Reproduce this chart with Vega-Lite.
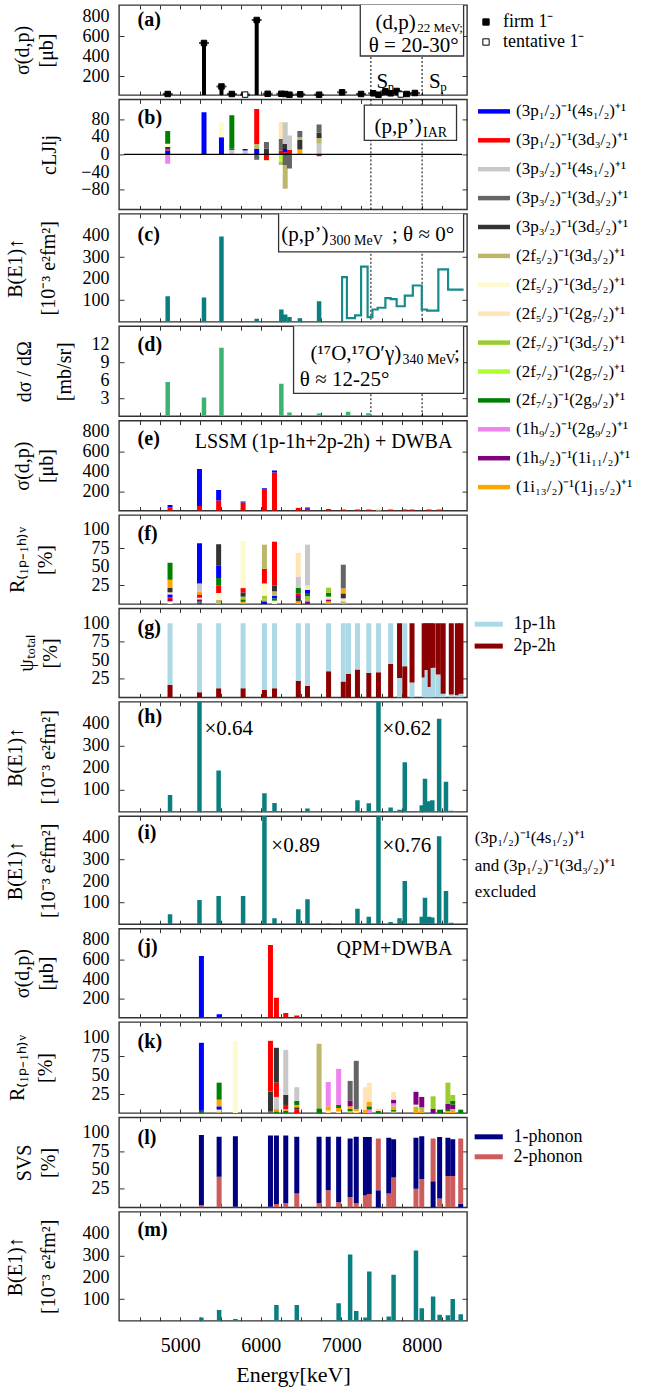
{
"$schema":"https://vega.github.io/schema/vega-lite/v6.json",
"padding":{"left":4,"top":3,"right":0,"bottom":0},
"autosize":{"type":"pad"},
"bounds":"flush",
"spacing":4.4,
"config":{
 "font":"Liberation Serif",
 "view":{"stroke":"#333333","strokeWidth":1.4},
 "axis":{"domain":false,"ticks":false,"grid":true,"gridColor":"#333333","gridOpacity":1,"gridWidth":1,"labelFlush":false,"labelFontSize":20,"labelColor":"black","titleFontSize":20,"titleFontWeight":"normal","titleColor":"black"},
 "axisY":{"labelPadding":10,"labelFontSize":18,"gridDash":[5,338],"titleAngle":-90,"titleBaseline":"top","titleAlign":"center","titleLineHeight":26},
 "legend":{"labelFontSize":17,"labelColor":"black","labelLimit":300},
 "text":{"color":"black"}
},
"datasets":{
 "thr":[{"E":7368},{"E":8004}],
 "a":[{"E":4843,"v":20,"t":"firm 1⁻"},{"E":5294,"v":530,"t":"firm 1⁻"},{"E":5511,"v":95,"t":"firm 1⁻"},{"E":5640,"v":20,"t":"firm 1⁻"},{"E":5805,"v":14,"t":"tentative 1⁻"},{"E":5949,"v":760,"t":"firm 1⁻"},{"E":6085,"v":22,"t":"firm 1⁻"},{"E":6255,"v":22,"t":"firm 1⁻"},{"E":6303,"v":20,"t":"firm 1⁻"},{"E":6356,"v":13,"t":"firm 1⁻"},{"E":6490,"v":17,"t":"firm 1⁻"},{"E":6724,"v":13,"t":"firm 1⁻"},{"E":7010,"v":37,"t":"firm 1⁻"},{"E":7246,"v":20,"t":"firm 1⁻"},{"E":7397,"v":27,"t":"firm 1⁻"},{"E":7462,"v":13,"t":"firm 1⁻"},{"E":7548,"v":47,"t":"firm 1⁻"},{"E":7613,"v":27,"t":"firm 1⁻"},{"E":7688,"v":50,"t":"firm 1⁻"},{"E":7739,"v":15,"t":"tentative 1⁻"},{"E":7814,"v":20,"t":"firm 1⁻"},{"E":7915,"v":30,"t":"firm 1⁻"}],
 "b":[
  {"E":4843,"s":1,"lo":0,"hi":9},{"E":4843,"s":2,"lo":9,"hi":11},{"E":4843,"s":5,"lo":11,"hi":17},{"E":4843,"s":7,"lo":17,"hi":24},{"E":4843,"s":11,"lo":24,"hi":53},{"E":4843,"s":12,"lo":-21,"hi":0},
  {"E":5294,"s":1,"lo":0,"hi":96},
  {"E":5511,"s":1,"lo":0,"hi":39},{"E":5511,"s":7,"lo":39,"hi":73},
  {"E":5640,"s":3,"lo":0,"hi":10.6},{"E":5640,"s":1,"lo":10.6,"hi":13},{"E":5640,"s":11,"lo":13,"hi":89},
  {"E":5805,"s":3,"lo":0,"hi":9},{"E":5805,"s":1,"lo":9,"hi":12},
  {"E":5949,"s":1,"lo":0,"hi":12},{"E":5949,"s":6,"lo":12,"hi":23.5},{"E":5949,"s":2,"lo":23.5,"hi":103},{"E":5949,"s":4,"lo":-12,"hi":0},
  {"E":6070,"s":5,"lo":0,"hi":13},{"E":6070,"s":4,"lo":13,"hi":28},{"E":6070,"s":2,"lo":-13,"hi":0},{"E":6070,"s":6,"lo":-14,"hi":-13},
  {"E":6255,"s":2,"lo":0,"hi":9},{"E":6255,"s":4,"lo":9,"hi":35},{"E":6255,"s":8,"lo":35,"hi":73},{"E":6255,"s":10,"lo":-17,"hi":0},{"E":6255,"s":6,"lo":-24,"hi":-17},
  {"E":6303,"s":2,"lo":0,"hi":5},{"E":6303,"s":1,"lo":5,"hi":12.5},{"E":6303,"s":5,"lo":12.5,"hi":23.5},{"E":6303,"s":3,"lo":23.5,"hi":73},{"E":6303,"s":4,"lo":-25,"hi":0},{"E":6303,"s":6,"lo":-78,"hi":-25},
  {"E":6356,"s":2,"lo":0,"hi":10.6},{"E":6356,"s":3,"lo":10.6,"hi":43},{"E":6356,"s":4,"lo":-32,"hi":0},
  {"E":6485,"s":14,"lo":0,"hi":11},{"E":6485,"s":5,"lo":11,"hi":33},{"E":6485,"s":6,"lo":33,"hi":39},{"E":6485,"s":4,"lo":39,"hi":53},
  {"E":6724,"s":3,"lo":0,"hi":24},{"E":6724,"s":6,"lo":24,"hi":37},{"E":6724,"s":5,"lo":37,"hi":50},{"E":6724,"s":4,"lo":50,"hi":68},{"E":6724,"s":2,"lo":-4,"hi":0}
 ],
 "c":[{"E":4843,"v":118},{"E":5294,"v":112},{"E":5511,"v":395},{"E":5949,"v":14},{"E":6255,"v":57},{"E":6303,"v":34},{"E":6356,"v":22},{"E":6485,"v":16},{"E":6724,"v":95}],
 "cs":[{"E":7010,"v":0},{"E":7010,"v":207},{"E":7070,"v":17},{"E":7171,"v":30},{"E":7246,"v":255},{"E":7327,"v":22},{"E":7387,"v":57},{"E":7452,"v":65},{"E":7548,"v":110},{"E":7613,"v":105},{"E":7688,"v":72},{"E":7789,"v":121},{"E":7889,"v":168},{"E":8000,"v":57},{"E":8065,"v":52},{"E":8206,"v":243},{"E":8327,"v":149},{"E":8520,"v":149}],
 "d":[{"E":4843,"v":5.7},{"E":5294,"v":3.1},{"E":5511,"v":11.4},{"E":6255,"v":5.4},{"E":6356,"v":0.6},{"E":6724,"v":0.45},{"E":7085,"v":0.75},{"E":7337,"v":0.5}],
 "e":[
  {"E":4872,"s":2,"lo":0,"hi":40},{"E":4872,"s":1,"lo":40,"hi":67},
  {"E":5238,"s":2,"lo":0,"hi":57},{"E":5238,"s":1,"lo":57,"hi":427},
  {"E":5476,"s":2,"lo":0,"hi":110},{"E":5476,"s":1,"lo":110,"hi":217},
  {"E":5780,"s":2,"lo":0,"hi":92},{"E":5780,"s":1,"lo":92,"hi":100},
  {"E":6045,"s":2,"lo":0,"hi":225},{"E":6045,"s":1,"lo":225,"hi":233},
  {"E":6170,"s":2,"lo":0,"hi":390},{"E":6170,"s":1,"lo":390,"hi":410},
  {"E":6466,"s":2,"lo":0,"hi":35},{"E":6466,"s":8,"lo":35,"hi":43},
  {"E":6580,"s":2,"lo":0,"hi":28},{"E":6580,"s":1,"lo":28,"hi":40},
  {"E":6842,"s":2,"lo":0,"hi":25},{"E":7025,"s":2,"lo":0,"hi":22},{"E":7201,"s":2,"lo":0,"hi":22},{"E":7342,"s":2,"lo":0,"hi":22},{"E":7462,"s":8,"lo":0,"hi":28},{"E":7613,"s":2,"lo":0,"hi":22},{"E":7789,"s":2,"lo":0,"hi":22},{"E":7879,"s":2,"lo":0,"hi":22},{"E":8090,"s":2,"lo":0,"hi":22},{"E":8216,"s":2,"lo":0,"hi":22}
 ],
 "f":[
  {"E":4872,"s":7,"lo":0,"hi":3.6},{"E":4872,"s":13,"lo":3.6,"hi":6.7},{"E":4872,"s":2,"lo":6.7,"hi":9},{"E":4872,"s":1,"lo":9,"hi":13},{"E":4872,"s":8,"lo":13,"hi":15.7},{"E":4872,"s":5,"lo":15.7,"hi":22},{"E":4872,"s":14,"lo":22,"hi":32.7},{"E":4872,"s":11,"lo":32.7,"hi":55.6},
  {"E":5238,"s":11,"lo":0,"hi":1.8},{"E":5238,"s":4,"lo":1.8,"hi":4},{"E":5238,"s":13,"lo":4,"hi":6.3},{"E":5238,"s":8,"lo":6.3,"hi":8.5},{"E":5238,"s":2,"lo":8.5,"hi":12.9},{"E":5238,"s":14,"lo":12.9,"hi":16.5},{"E":5238,"s":3,"lo":16.5,"hi":27.7},{"E":5238,"s":1,"lo":27.7,"hi":81.9},
  {"E":5476,"s":6,"lo":0,"hi":5.4},{"E":5476,"s":7,"lo":5.4,"hi":14.8},{"E":5476,"s":2,"lo":14.8,"hi":24.6},{"E":5476,"s":11,"lo":24.6,"hi":35},{"E":5476,"s":1,"lo":35,"hi":51.5},{"E":5476,"s":5,"lo":51.5,"hi":80.6},
  {"E":5780,"s":14,"lo":0,"hi":3},{"E":5780,"s":11,"lo":3,"hi":6.3},{"E":5780,"s":9,"lo":6.3,"hi":9.9},{"E":5780,"s":5,"lo":9.9,"hi":15.7},{"E":5780,"s":2,"lo":15.7,"hi":21.5},{"E":5780,"s":7,"lo":21.5,"hi":85},
  {"E":6045,"s":1,"lo":0,"hi":3.6},{"E":6045,"s":6,"lo":3.6,"hi":5.8},{"E":6045,"s":9,"lo":5.8,"hi":11.2},{"E":6045,"s":7,"lo":11.2,"hi":27.7},{"E":6045,"s":2,"lo":27.7,"hi":47.5},{"E":6045,"s":6,"lo":47.5,"hi":80},
  {"E":6170,"s":7,"lo":0,"hi":4.5},{"E":6170,"s":11,"lo":4.5,"hi":7.6},{"E":6170,"s":1,"lo":7.6,"hi":11.2},{"E":6170,"s":6,"lo":11.2,"hi":17},{"E":6170,"s":5,"lo":17,"hi":24.6},{"E":6170,"s":2,"lo":24.6,"hi":84},
  {"E":6466,"s":14,"lo":0,"hi":3.6},{"E":6466,"s":5,"lo":3.6,"hi":8},{"E":6466,"s":13,"lo":8,"hi":10.8},{"E":6466,"s":2,"lo":10.8,"hi":14.3},{"E":6466,"s":11,"lo":14.3,"hi":22},{"E":6466,"s":3,"lo":22,"hi":37},{"E":6466,"s":8,"lo":37,"hi":69},
  {"E":6580,"s":13,"lo":0,"hi":3.6},{"E":6580,"s":6,"lo":3.6,"hi":6.7},{"E":6580,"s":9,"lo":6.7,"hi":10.8},{"E":6580,"s":11,"lo":10.8,"hi":14.8},{"E":6580,"s":1,"lo":14.8,"hi":19},{"E":6580,"s":8,"lo":19,"hi":25},{"E":6580,"s":3,"lo":25,"hi":80},
  {"E":6842,"s":14,"lo":0,"hi":3.6},{"E":6842,"s":13,"lo":3.6,"hi":5.4},{"E":6842,"s":12,"lo":5.4,"hi":7.2},{"E":6842,"s":8,"lo":7.2,"hi":9.9},{"E":6842,"s":11,"lo":9.9,"hi":15.2},{"E":6842,"s":9,"lo":15.2,"hi":22},
  {"E":7025,"s":6,"lo":0,"hi":3.6},{"E":7025,"s":8,"lo":3.6,"hi":7.6},{"E":7025,"s":5,"lo":7.6,"hi":14.3},{"E":7025,"s":14,"lo":14.3,"hi":21},{"E":7025,"s":4,"lo":21,"hi":53}
 ],
 "g":[
  {"E":4872,"c":"2p-2h","lo":0,"hi":16.8},{"E":4872,"c":"1p-1h","lo":16.8,"hi":100},
  {"E":5238,"c":"2p-2h","lo":0,"hi":6.8},{"E":5238,"c":"1p-1h","lo":6.8,"hi":100},
  {"E":5476,"c":"2p-2h","lo":0,"hi":12.2},{"E":5476,"c":"1p-1h","lo":12.2,"hi":100},
  {"E":5780,"c":"2p-2h","lo":0,"hi":12.2},{"E":5780,"c":"1p-1h","lo":12.2,"hi":100},
  {"E":6045,"c":"2p-2h","lo":0,"hi":10.4},{"E":6045,"c":"1p-1h","lo":10.4,"hi":100},
  {"E":6170,"c":"2p-2h","lo":0,"hi":12.2},{"E":6170,"c":"1p-1h","lo":12.2,"hi":100},
  {"E":6466,"c":"2p-2h","lo":0,"hi":22.6},{"E":6466,"c":"1p-1h","lo":22.6,"hi":100},
  {"E":6580,"c":"2p-2h","lo":0,"hi":15.4},{"E":6580,"c":"1p-1h","lo":15.4,"hi":100},
  {"E":6842,"c":"2p-2h","lo":0,"hi":35.3},{"E":6842,"c":"1p-1h","lo":35.3,"hi":100},
  {"E":7025,"c":"2p-2h","lo":0,"hi":21.3},{"E":7025,"c":"1p-1h","lo":21.3,"hi":100},
  {"E":7090,"c":"2p-2h","lo":0,"hi":31.6},{"E":7090,"c":"1p-1h","lo":31.6,"hi":100},
  {"E":7201,"c":"2p-2h","lo":0,"hi":37.5},{"E":7201,"c":"1p-1h","lo":37.5,"hi":100},
  {"E":7342,"c":"2p-2h","lo":0,"hi":33},{"E":7342,"c":"1p-1h","lo":33,"hi":100},
  {"E":7462,"c":"2p-2h","lo":0,"hi":33.9},{"E":7462,"c":"1p-1h","lo":33.9,"hi":100},
  {"E":7613,"c":"2p-2h","lo":0,"hi":45.2},{"E":7613,"c":"1p-1h","lo":45.2,"hi":100},
  {"E":7724,"c":"1p-1h","lo":0,"hi":26},{"E":7724,"c":"2p-2h","lo":26,"hi":100},
  {"E":7789,"c":"2p-2h","lo":0,"hi":42},{"E":7789,"c":"1p-1h","lo":42,"hi":100},
  {"E":7879,"c":"1p-1h","lo":0,"hi":20},{"E":7879,"c":"2p-2h","lo":20,"hi":100},
  {"E":8030,"c":"1p-1h","lo":0,"hi":27},{"E":8030,"c":"2p-2h","lo":27,"hi":100},
  {"E":8065,"c":"1p-1h","lo":0,"hi":37},{"E":8065,"c":"2p-2h","lo":37,"hi":100},
  {"E":8105,"c":"1p-1h","lo":0,"hi":14},{"E":8105,"c":"2p-2h","lo":14,"hi":100},
  {"E":8141,"c":"1p-1h","lo":0,"hi":40},{"E":8141,"c":"2p-2h","lo":40,"hi":100},
  {"E":8206,"c":"1p-1h","lo":0,"hi":31},{"E":8206,"c":"2p-2h","lo":31,"hi":100},
  {"E":8266,"c":"1p-1h","lo":0,"hi":5},{"E":8266,"c":"2p-2h","lo":5,"hi":100},
  {"E":8367,"c":"1p-1h","lo":0,"hi":4},{"E":8367,"c":"2p-2h","lo":4,"hi":100},
  {"E":8442,"c":"1p-1h","lo":0,"hi":3},{"E":8442,"c":"2p-2h","lo":3,"hi":100},
  {"E":8487,"c":"1p-1h","lo":0,"hi":5},{"E":8487,"c":"2p-2h","lo":5,"hi":100}
 ],
 "h":[{"E":4872,"v":76},{"E":5238,"v":700},{"E":5476,"v":188},{"E":5780,"v":5},{"E":6045,"v":84},{"E":6170,"v":40},{"E":6466,"v":3},{"E":6580,"v":15},{"E":6842,"v":3},{"E":7025,"v":2},{"E":7201,"v":53},{"E":7342,"v":39},{"E":7462,"v":700},{"E":7613,"v":20},{"E":7724,"v":9},{"E":7789,"v":225},{"E":7879,"v":2},{"E":8000,"v":30},{"E":8040,"v":150},{"E":8090,"v":48},{"E":8131,"v":53},{"E":8216,"v":423},{"E":8301,"v":137},{"E":8367,"v":5},{"E":8467,"v":2}],
 "i":[{"E":4872,"v":46},{"E":5238,"v":112},{"E":5476,"v":130},{"E":5780,"v":130},{"E":6045,"v":700},{"E":6170,"v":28},{"E":6466,"v":69},{"E":6580,"v":115},{"E":6842,"v":3},{"E":7025,"v":2},{"E":7201,"v":72},{"E":7342,"v":35},{"E":7462,"v":700},{"E":7613,"v":10},{"E":7724,"v":28},{"E":7789,"v":200},{"E":8000,"v":35},{"E":8040,"v":123},{"E":8090,"v":35},{"E":8131,"v":31},{"E":8216,"v":407},{"E":8301,"v":154},{"E":8367,"v":7}],
 "j":[{"E":5262,"s":1,"v":633},{"E":5482,"s":1,"v":45},{"E":6120,"s":2,"v":743},{"E":6194,"s":2,"v":210},{"E":6310,"s":2,"v":57},{"E":6447,"s":2,"v":30}],
 "k":[
  {"E":5262,"s":11,"lo":0,"hi":3},{"E":5262,"s":1,"lo":3,"hi":92.6},
  {"E":5482,"s":6,"lo":0,"hi":2},{"E":5482,"s":7,"lo":2,"hi":4.4},{"E":5482,"s":1,"lo":4.4,"hi":8.8},{"E":5482,"s":14,"lo":8.8,"hi":17.6},{"E":5482,"s":11,"lo":17.6,"hi":40},
  {"E":5684,"s":7,"lo":0,"hi":95.2},
  {"E":6120,"s":4,"lo":0,"hi":2.6},{"E":6120,"s":5,"lo":2.6,"hi":28.2},{"E":6120,"s":2,"lo":28.2,"hi":95.2},
  {"E":6194,"s":11,"lo":0,"hi":2.2},{"E":6194,"s":14,"lo":2.2,"hi":5.3},{"E":6194,"s":3,"lo":5.3,"hi":21.2},{"E":6194,"s":2,"lo":21.2,"hi":40},{"E":6194,"s":5,"lo":40,"hi":86},
  {"E":6310,"s":11,"lo":0,"hi":3},{"E":6310,"s":14,"lo":3,"hi":5.3},{"E":6310,"s":2,"lo":5.3,"hi":10.6},{"E":6310,"s":5,"lo":10.6,"hi":23.8},{"E":6310,"s":3,"lo":23.8,"hi":83.3},
  {"E":6447,"s":2,"lo":0,"hi":4.4},{"E":6447,"s":5,"lo":4.4,"hi":7.5},{"E":6447,"s":14,"lo":7.5,"hi":10.6},{"E":6447,"s":11,"lo":10.6,"hi":16},{"E":6447,"s":3,"lo":16,"hi":34},
  {"E":6724,"s":11,"lo":0,"hi":6.2},{"E":6724,"s":6,"lo":6.2,"hi":91.3},
  {"E":6838,"s":8,"lo":0,"hi":3.5},{"E":6838,"s":14,"lo":3.5,"hi":8.8},{"E":6838,"s":12,"lo":8.8,"hi":40.8},
  {"E":6967,"s":8,"lo":0,"hi":2},{"E":6967,"s":14,"lo":2,"hi":6.6},{"E":6967,"s":11,"lo":6.6,"hi":10.6},{"E":6967,"s":12,"lo":10.6,"hi":58.2},
  {"E":7110,"s":6,"lo":0,"hi":2.6},{"E":7110,"s":11,"lo":2.6,"hi":5.3},{"E":7110,"s":14,"lo":5.3,"hi":8.8},{"E":7110,"s":13,"lo":8.8,"hi":16},{"E":7110,"s":4,"lo":16,"hi":42.3},
  {"E":7186,"s":8,"lo":0,"hi":2.6},{"E":7186,"s":14,"lo":2.6,"hi":5.3},{"E":7186,"s":4,"lo":5.3,"hi":68.8},
  {"E":7300,"s":14,"lo":0,"hi":4.4},{"E":7300,"s":8,"lo":4.4,"hi":34},
  {"E":7348,"s":12,"lo":0,"hi":4.4},{"E":7348,"s":11,"lo":4.4,"hi":8.8},{"E":7348,"s":14,"lo":8.8,"hi":15},{"E":7348,"s":8,"lo":15,"hi":40},
  {"E":7460,"s":11,"lo":0,"hi":2.6},{"E":7460,"s":8,"lo":2.6,"hi":6},
  {"E":7650,"s":6,"lo":0,"hi":2},{"E":7650,"s":11,"lo":2,"hi":4.4},{"E":7650,"s":14,"lo":4.4,"hi":8.8},{"E":7650,"s":12,"lo":8.8,"hi":12.7},{"E":7650,"s":13,"lo":12.7,"hi":17.6},{"E":7650,"s":8,"lo":17.6,"hi":28},
  {"E":7928,"s":14,"lo":0,"hi":5.3},{"E":7928,"s":9,"lo":5.3,"hi":8.4},{"E":7928,"s":8,"lo":8.4,"hi":11},{"E":7928,"s":13,"lo":11,"hi":28},
  {"E":8000,"s":14,"lo":0,"hi":3},{"E":8000,"s":6,"lo":3,"hi":5.3},{"E":8000,"s":9,"lo":5.3,"hi":7.5},{"E":8000,"s":13,"lo":7.5,"hi":21.2},
  {"E":8141,"s":13,"lo":0,"hi":5.3},{"E":8141,"s":9,"lo":5.3,"hi":22},
  {"E":8222,"s":11,"lo":0,"hi":4.4},
  {"E":8325,"s":14,"lo":0,"hi":2.6},{"E":8325,"s":11,"lo":2.6,"hi":5.3},{"E":8325,"s":13,"lo":5.3,"hi":11.9},{"E":8325,"s":9,"lo":11.9,"hi":40},
  {"E":8385,"s":14,"lo":0,"hi":2.6},{"E":8385,"s":6,"lo":2.6,"hi":5.3},{"E":8385,"s":13,"lo":5.3,"hi":11},{"E":8385,"s":11,"lo":11,"hi":16},{"E":8385,"s":9,"lo":16,"hi":23.8},
  {"E":8484,"s":11,"lo":0,"hi":4.4}
 ],
 "l":[
  {"E":5262,"c":"2-phonon","lo":0,"hi":3.1},{"E":5262,"c":"1-phonon","lo":3.1,"hi":96.4},
  {"E":5482,"c":"2-phonon","lo":0,"hi":41},{"E":5482,"c":"1-phonon","lo":41,"hi":94.2},
  {"E":5684,"c":"2-phonon","lo":0,"hi":1},{"E":5684,"c":"1-phonon","lo":1,"hi":95},
  {"E":6120,"c":"2-phonon","lo":0,"hi":1},{"E":6120,"c":"1-phonon","lo":1,"hi":95.8},
  {"E":6194,"c":"2-phonon","lo":0,"hi":4.6},{"E":6194,"c":"1-phonon","lo":4.6,"hi":95.8},
  {"E":6310,"c":"2-phonon","lo":0,"hi":5.5},{"E":6310,"c":"1-phonon","lo":5.5,"hi":95.8},
  {"E":6447,"c":"2-phonon","lo":0,"hi":18.7},{"E":6447,"c":"1-phonon","lo":18.7,"hi":94.2},
  {"E":6724,"c":"2-phonon","lo":0,"hi":5.5},{"E":6724,"c":"1-phonon","lo":5.5,"hi":94.2},
  {"E":6838,"c":"2-phonon","lo":0,"hi":23},{"E":6838,"c":"1-phonon","lo":23,"hi":94.2},
  {"E":6967,"c":"2-phonon","lo":0,"hi":6.8},{"E":6967,"c":"1-phonon","lo":6.8,"hi":94.2},
  {"E":7110,"c":"2-phonon","lo":0,"hi":14},{"E":7110,"c":"1-phonon","lo":14,"hi":92},
  {"E":7186,"c":"2-phonon","lo":0,"hi":5.5},{"E":7186,"c":"1-phonon","lo":5.5,"hi":94.2},
  {"E":7300,"c":"2-phonon","lo":0,"hi":16},{"E":7300,"c":"1-phonon","lo":16,"hi":94},
  {"E":7348,"c":"2-phonon","lo":0,"hi":18},{"E":7348,"c":"1-phonon","lo":18,"hi":94},
  {"E":7460,"c":"1-phonon","lo":0,"hi":23},{"E":7460,"c":"2-phonon","lo":23,"hi":92},
  {"E":7590,"c":"2-phonon","lo":0,"hi":18.7},{"E":7590,"c":"1-phonon","lo":18.7,"hi":93},
  {"E":7650,"c":"2-phonon","lo":0,"hi":40},{"E":7650,"c":"1-phonon","lo":40,"hi":91},
  {"E":7928,"c":"2-phonon","lo":0,"hi":25},{"E":7928,"c":"1-phonon","lo":25,"hi":93},
  {"E":8000,"c":"2-phonon","lo":0,"hi":38},{"E":8000,"c":"1-phonon","lo":38,"hi":95},
  {"E":8141,"c":"1-phonon","lo":0,"hi":35},{"E":8141,"c":"2-phonon","lo":35,"hi":92},
  {"E":8222,"c":"2-phonon","lo":0,"hi":12},{"E":8222,"c":"1-phonon","lo":12,"hi":94},
  {"E":8325,"c":"2-phonon","lo":0,"hi":42},{"E":8325,"c":"1-phonon","lo":42,"hi":93},
  {"E":8385,"c":"2-phonon","lo":0,"hi":42},{"E":8385,"c":"1-phonon","lo":42,"hi":91},
  {"E":8484,"c":"1-phonon","lo":0,"hi":5},{"E":8484,"c":"2-phonon","lo":5,"hi":92}
 ],
 "m":[{"E":5262,"v":15},{"E":5482,"v":49},{"E":5684,"v":8},{"E":6120,"v":3},{"E":6194,"v":72},{"E":6310,"v":3},{"E":6447,"v":72},{"E":6724,"v":2},{"E":6838,"v":3},{"E":6967,"v":80},{"E":7110,"v":304},{"E":7186,"v":45},{"E":7300,"v":15},{"E":7348,"v":226},{"E":7460,"v":3},{"E":7590,"v":20},{"E":7650,"v":211},{"E":7928,"v":323},{"E":8000,"v":58},{"E":8141,"v":111},{"E":8222,"v":28},{"E":8325,"v":26},{"E":8385,"v":100},{"E":8484,"v":30}]
},
"vconcat":[
 {"width":348,"height":90,
  "resolve":{"axis":{"y":"independent"}},
  "encoding":{"x":{"field":"E","type":"quantitative","scale":{"domain":[4300,8500],"nice":false,"zero":false},"axis":{"title":null,"labels":false,"gridDash":[4,82],"values":[4500,4750,5000,5250,5500,5750,6000,6250,6500,6750,7000,7250,7500,7750,8000,8250]}}},
  "layer":[
   {"data":{"name":"thr"},"mark":{"type":"rule","strokeDash":[2,2],"color":"black","strokeWidth":1},"encoding":{}},
   {"data":{"name":"a"},"mark":{"type":"bar","size":4,"color":"black","clip":true,"orient":"vertical"},"encoding":{"y":{"field":"v","type":"quantitative","scale":{"domain":[10,910],"nice":false,"zero":false},"axis":{"orient":"left","title":["σ(d,p)","[μb]"],"values":[200,600],"titleX":-107,"titleLineHeight":24}},"y2":{"datum":10}}},
   {"data":{"name":"a"},"mark":{"type":"tick","orient":"horizontal","size":10,"thickness":2,"color":"black"},"encoding":{"y":{"field":"v","type":"quantitative","axis":null}}},
   {"data":{"name":"a"},"mark":{"type":"point","shape":"square","filled":true,"size":30,"stroke":"black","strokeWidth":1,"opacity":1},"encoding":{"y":{"field":"v","type":"quantitative","axis":null},"fill":{"field":"t","type":"nominal","scale":{"domain":["firm 1⁻","tentative 1⁻"],"range":["black","white"]},"legend":{"orient":"none","legendX":358,"legendY":8,"title":null,"symbolType":"square","symbolSize":40,"symbolStrokeColor":"black","symbolStrokeWidth":1,"labelFontSize":18,"rowPadding":2,"labelOffset":8}}}},
   {"data":{"values":[{"E":7236,"E2":8520,"lo":400,"hi":930}]},"mark":{"type":"rect","fill":"white","stroke":"#333333","strokeWidth":1.3,"clip":true},"encoding":{"x":{"field":"E","type":"quantitative"},"x2":{"field":"E2"},"y":{"field":"lo","type":"quantitative","axis":null},"y2":{"field":"hi"}}},
   {"data":{"values":[{"E":7925,"v":732,"t":"(d,p)"}]},"mark":{"type":"text","align":"right","baseline":"middle","fontSize":21},"encoding":{"y":{"field":"v","type":"quantitative","axis":null},"text":{"field":"t"}}},
   {"data":{"values":[{"E":7342,"v":500,"t":"θ = 20-30°"},{"E":7437,"v":140,"t":"S"},{"E":8090,"v":140,"t":"S"}]},"mark":{"type":"text","align":"left","baseline":"middle","fontSize":21},"encoding":{"y":{"field":"v","type":"quantitative","axis":null},"text":{"field":"t"}}},
   {"data":{"values":[{"E":7945,"v":732,"t":"22 MeV;"},{"E":7578,"v":140,"t":"n"},{"E":8231,"v":140,"t":"p"}]},"mark":{"type":"text","align":"left","baseline":"middle","fontSize":13,"dy":5},"encoding":{"y":{"field":"v","type":"quantitative","axis":null},"text":{"field":"t"}}},
   {"data":{"values":[{"E":4469,"v":757,"t":"(a)"}]},"mark":{"type":"text","align":"left","baseline":"middle","fontSize":20,"fontWeight":"bold"},"encoding":{"y":{"field":"v","type":"quantitative","axis":{"orient":"left","title":null,"values":[400,800]}},"text":{"field":"t"}}}
  ]},
 {"width":348,"height":110,
  "resolve":{"axis":{"y":"independent"}},
  "encoding":{"x":{"field":"E","type":"quantitative","scale":{"domain":[4300,8500],"nice":false,"zero":false},"axis":{"title":null,"labels":false,"gridDash":[4,102],"values":[4500,4750,5000,5250,5500,5750,6000,6250,6500,6750,7000,7250,7500,7750,8000,8250]}}},
  "layer":[
   {"data":{"name":"thr"},"mark":{"type":"rule","strokeDash":[2,2],"color":"black","strokeWidth":1},"encoding":{}},
   {"data":{"name":"b"},"mark":{"type":"bar","size":5,"clip":true,"orient":"vertical"},"encoding":{"y":{"field":"lo","type":"quantitative","scale":{"domain":[-125,125],"nice":false,"zero":false},"axis":{"orient":"left","title":"cLJlj","values":[-80,0,80],"titleX":-80}},"y2":{"field":"hi"},"color":{"field":"s","type":"nominal","scale":{"domain":[1,2,3,4,5,6,7,8,9,10,11,12,13,14],"range":["#0000ff","#ff0000","#c8c8c8","#646464","#333333","#bdb76b","#fffacd","#ffe4b5","#9acd32","#adff2f","#008000","#ee82ee","#800080","#ffa500"]},"legend":{"orient":"none","legendX":359,"legendY":-4,"title":null,"symbolType":"M-1,-0.14L1,-0.14L1,0.14L-1,0.14Z","symbolSize":1024,"symbolStrokeWidth":0,"labelFontSize":17,"labelOffset":6,"rowPadding":4.9,"labelExpr":"['(3p₁/₂)⁻¹(4s₁/₂)⁺¹','(3p₁/₂)⁻¹(3d₃/₂)⁺¹','(3p₃/₂)⁻¹(4s₁/₂)⁺¹','(3p₃/₂)⁻¹(3d₃/₂)⁺¹','(3p₃/₂)⁻¹(3d₅/₂)⁺¹','(2f₅/₂)⁻¹(3d₃/₂)⁺¹','(2f₅/₂)⁻¹(3d₅/₂)⁺¹','(2f₅/₂)⁻¹(2g₇/₂)⁺¹','(2f₇/₂)⁻¹(3d₅/₂)⁺¹','(2f₇/₂)⁻¹(2g₇/₂)⁺¹','(2f₇/₂)⁻¹(2g₉/₂)⁺¹','(1h₉/₂)⁻¹(2g₉/₂)⁺¹','(1h₉/₂)⁻¹(1i₁₁/₂)⁺¹','(1i₁₃/₂)⁻¹(1j₁₅/₂)⁺¹'][datum.value - 1]"}}}},
   {"data":{"values":[{"E":4300,"E2":8500}]},"mark":{"type":"rule","color":"black","strokeWidth":1.2},"encoding":{"x":{"field":"E","type":"quantitative"},"x2":{"field":"E2"},"y":{"datum":0,"type":"quantitative","axis":null}}},
   {"data":{"values":[{"E":7286,"E2":8432,"lo":32,"hi":112}]},"mark":{"type":"rect","fill":"white","stroke":"#333333","strokeWidth":1.3},"encoding":{"x":{"field":"E","type":"quantitative"},"x2":{"field":"E2"},"y":{"field":"lo","type":"quantitative","axis":null},"y2":{"field":"hi"}}},
   {"data":{"values":[{"E":8000,"v":62,"t":"(p,p’)"}]},"mark":{"type":"text","align":"right","baseline":"middle","fontSize":21},"encoding":{"y":{"field":"v","type":"quantitative","axis":null},"text":{"field":"t"}}},
   {"data":{"values":[{"E":8015,"v":62,"t":"IAR"}]},"mark":{"type":"text","align":"left","baseline":"middle","fontSize":14,"dy":6},"encoding":{"y":{"field":"v","type":"quantitative","axis":null},"text":{"field":"t"}}},
   {"data":{"values":[{"E":4469,"v":82,"t":"(b)"}]},"mark":{"type":"text","align":"left","baseline":"middle","fontSize":20,"fontWeight":"bold"},"encoding":{"y":{"field":"v","type":"quantitative","axis":{"orient":"left","title":null,"values":[-40,40]}},"text":{"field":"t"}}}
  ]},
 {"width":348,"height":108,
  "resolve":{"axis":{"y":"independent"}},
  "encoding":{"x":{"field":"E","type":"quantitative","scale":{"domain":[4300,8500],"nice":false,"zero":false},"axis":{"title":null,"labels":false,"gridDash":[4,100],"values":[4500,4750,5000,5250,5500,5750,6000,6250,6500,6750,7000,7250,7500,7750,8000,8250]}}},
  "layer":[
   {"data":{"name":"thr"},"mark":{"type":"rule","strokeDash":[2,2],"color":"black","strokeWidth":1},"encoding":{}},
   {"data":{"name":"c"},"mark":{"type":"bar","size":4.5,"color":"#0b7f7f","clip":true,"orient":"vertical"},"encoding":{"y":{"field":"v","type":"quantitative","scale":{"domain":[0,500],"nice":false,"zero":false},"axis":{"orient":"left","title":["B(E1)↑","[10⁻³ e²fm²]"],"values":[100,300],"titleX":-114,"titleLineHeight":33}}}},
   {"data":{"name":"cs"},"mark":{"type":"line","interpolate":"step-after","stroke":"#178a8a","strokeWidth":2.2,"clip":true},"encoding":{"y":{"field":"v","type":"quantitative","axis":null}}},
   {"data":{"values":[{"E":6221,"E2":8520,"lo":324,"hi":520}]},"mark":{"type":"rect","fill":"white","stroke":"#333333","strokeWidth":1.3,"clip":true},"encoding":{"x":{"field":"E","type":"quantitative"},"x2":{"field":"E2"},"y":{"field":"lo","type":"quantitative","axis":null},"y2":{"field":"hi"}}},
   {"data":{"values":[{"E":6840,"v":400,"t":"(p,p’)"}]},"mark":{"type":"text","align":"right","baseline":"middle","fontSize":21},"encoding":{"y":{"field":"v","type":"quantitative","axis":null},"text":{"field":"t"}}},
   {"data":{"values":[{"E":6855,"v":400,"t":"300 MeV"}]},"mark":{"type":"text","align":"left","baseline":"middle","fontSize":14,"dy":6},"encoding":{"y":{"field":"v","type":"quantitative","axis":null},"text":{"field":"t"}}},
   {"data":{"values":[{"E":7630,"v":400,"t":"; θ ≈ 0°"}]},"mark":{"type":"text","align":"left","baseline":"middle","fontSize":21},"encoding":{"y":{"field":"v","type":"quantitative","axis":null},"text":{"field":"t"}}},
   {"data":{"values":[{"E":4469,"v":401,"t":"(c)"}]},"mark":{"type":"text","align":"left","baseline":"middle","fontSize":20,"fontWeight":"bold"},"encoding":{"y":{"field":"v","type":"quantitative","axis":{"orient":"left","title":null,"values":[200,400]}},"text":{"field":"t"}}}
  ]},
 {"width":348,"height":90,
  "resolve":{"axis":{"y":"independent"}},
  "encoding":{"x":{"field":"E","type":"quantitative","scale":{"domain":[4300,8500],"nice":false,"zero":false},"axis":{"title":null,"labels":false,"gridDash":[4,82],"values":[4500,4750,5000,5250,5500,5750,6000,6250,6500,6750,7000,7250,7500,7750,8000,8250]}}},
  "layer":[
   {"data":{"name":"thr"},"mark":{"type":"rule","strokeDash":[2,2],"color":"black","strokeWidth":1},"encoding":{}},
   {"data":{"name":"d"},"mark":{"type":"bar","size":4.5,"color":"#3cb371","clip":true,"orient":"vertical"},"encoding":{"y":{"field":"v","type":"quantitative","scale":{"domain":[0,15],"nice":false,"zero":false},"axis":{"orient":"left","title":["dσ / dΩ","[mb/sr]"],"values":[3,9],"titleX":-105,"titleLineHeight":40}}}},
   {"data":{"values":[{"E":6407,"E2":8520,"lo":3.8,"hi":16}]},"mark":{"type":"rect","fill":"white","stroke":"#333333","strokeWidth":1.3,"clip":true},"encoding":{"x":{"field":"E","type":"quantitative"},"x2":{"field":"E2"},"y":{"field":"lo","type":"quantitative","axis":null},"y2":{"field":"hi"}}},
   {"data":{"values":[{"E":7745,"v":10.3,"t":"(¹⁷O,¹⁷O′γ)"}]},"mark":{"type":"text","align":"right","baseline":"middle","fontSize":21},"encoding":{"y":{"field":"v","type":"quantitative","axis":null},"text":{"field":"t"}}},
   {"data":{"values":[{"E":7760,"v":10.3,"t":"340 MeV"}]},"mark":{"type":"text","align":"left","baseline":"middle","fontSize":14,"dy":6},"encoding":{"y":{"field":"v","type":"quantitative","axis":null},"text":{"field":"t"}}},
   {"data":{"values":[{"E":8400,"v":10.3,"t":";"},{"E":6485,"v":6.1,"t":"θ ≈ 12-25°"}]},"mark":{"type":"text","align":"left","baseline":"middle","fontSize":21},"encoding":{"y":{"field":"v","type":"quantitative","axis":null},"text":{"field":"t"}}},
   {"data":{"values":[{"E":4469,"v":11.9,"t":"(d)"}]},"mark":{"type":"text","align":"left","baseline":"middle","fontSize":20,"fontWeight":"bold"},"encoding":{"y":{"field":"v","type":"quantitative","axis":{"orient":"left","title":null,"values":[6,12]}},"text":{"field":"t"}}}
  ]},
 {"width":348,"height":90,
  "resolve":{"axis":{"y":"independent"}},
  "encoding":{"x":{"field":"E","type":"quantitative","scale":{"domain":[4300,8500],"nice":false,"zero":false},"axis":{"title":null,"labels":false,"gridDash":[4,82],"values":[4500,4750,5000,5250,5500,5750,6000,6250,6500,6750,7000,7250,7500,7750,8000,8250]}}},
  "layer":[
   {"data":{"name":"e"},"mark":{"type":"bar","size":5,"clip":true,"orient":"vertical"},"encoding":{"y":{"field":"lo","type":"quantitative","scale":{"domain":[10,910],"nice":false,"zero":false},"axis":{"orient":"left","title":["σ(d,p)","[μb]"],"values":[200,600],"titleX":-107,"titleLineHeight":24}},"y2":{"field":"hi"},"color":{"field":"s","type":"nominal","scale":{"domain":[1,2,3,4,5,6,7,8,9,10,11,12,13,14],"range":["#0000ff","#ff0000","#c8c8c8","#646464","#333333","#bdb76b","#fffacd","#ffe4b5","#9acd32","#adff2f","#008000","#ee82ee","#800080","#ffa500"]},"legend":null}}},
   {"data":{"values":[{"E":8380,"v":700,"t":"LSSM (1p-1h+2p-2h) + DWBA"}]},"mark":{"type":"text","align":"right","baseline":"middle","fontSize":20},"encoding":{"y":{"field":"v","type":"quantitative","axis":null},"text":{"field":"t"}}},
   {"data":{"values":[{"E":4469,"v":730,"t":"(e)"}]},"mark":{"type":"text","align":"left","baseline":"middle","fontSize":20,"fontWeight":"bold"},"encoding":{"y":{"field":"v","type":"quantitative","axis":{"orient":"left","title":null,"values":[400,800]}},"text":{"field":"t"}}}
  ]},
 {"width":348,"height":89,
  "resolve":{"axis":{"y":"independent"}},
  "encoding":{"x":{"field":"E","type":"quantitative","scale":{"domain":[4300,8500],"nice":false,"zero":false},"axis":{"title":null,"labels":false,"gridDash":[4,81],"values":[4500,4750,5000,5250,5500,5750,6000,6250,6500,6750,7000,7250,7500,7750,8000,8250]}}},
  "layer":[
   {"data":{"name":"f"},"mark":{"type":"bar","size":5,"clip":true,"orient":"vertical"},"encoding":{"y":{"field":"lo","type":"quantitative","scale":{"domain":[0,120],"nice":false,"zero":false},"axis":{"orient":"left","title":["R₍₁ₚ₋₁ₕ₎ᵥ","[%]"],"values":[25,75],"titleX":-112,"titleLineHeight":28}},"y2":{"field":"hi"},"color":{"field":"s","type":"nominal","scale":{"domain":[1,2,3,4,5,6,7,8,9,10,11,12,13,14],"range":["#0000ff","#ff0000","#c8c8c8","#646464","#333333","#bdb76b","#fffacd","#ffe4b5","#9acd32","#adff2f","#008000","#ee82ee","#800080","#ffa500"]},"legend":null}}},
   {"data":{"values":[{"E":4469,"v":94,"t":"(f)"}]},"mark":{"type":"text","align":"left","baseline":"middle","fontSize":20,"fontWeight":"bold"},"encoding":{"y":{"field":"v","type":"quantitative","axis":{"orient":"left","title":null,"values":[50,100]}},"text":{"field":"t"}}}
  ]},
 {"width":348,"height":89,
  "resolve":{"axis":{"y":"independent"}},
  "encoding":{"x":{"field":"E","type":"quantitative","scale":{"domain":[4300,8500],"nice":false,"zero":false},"axis":{"title":null,"labels":false,"gridDash":[4,81],"values":[4500,4750,5000,5250,5500,5750,6000,6250,6500,6750,7000,7250,7500,7750,8000,8250]}}},
  "layer":[
   {"data":{"name":"g"},"mark":{"type":"bar","size":5,"clip":true,"orient":"vertical"},"encoding":{"y":{"field":"lo","type":"quantitative","scale":{"domain":[0,120],"nice":false,"zero":false},"axis":{"orient":"left","title":["ψₜₒₜₐₗ","[%]"],"values":[25,75],"titleX":-103,"titleLineHeight":24}},"y2":{"field":"hi"},"color":{"field":"c","type":"nominal","scale":{"domain":["1p-1h","2p-2h"],"range":["#add8e6","#8b0000"]},"legend":null}}},
   {"data":{"values":[{"E":8657,"E2":9007,"v":98.7,"c":"1p-1h"},{"E":8657,"E2":9007,"v":69.2,"c":"2p-2h"}]},"mark":{"type":"rule","strokeWidth":5},"encoding":{"x":{"field":"E","type":"quantitative"},"x2":{"field":"E2"},"y":{"field":"v","type":"quantitative","axis":null},"color":{"field":"c","type":"nominal","legend":null}}},
   {"data":{"values":[{"E":9140,"v":98.7,"t":"1p-1h"},{"E":9140,"v":69.2,"t":"2p-2h"}]},"mark":{"type":"text","align":"left","baseline":"middle","fontSize":18},"encoding":{"y":{"field":"v","type":"quantitative","axis":null},"text":{"field":"t"}}},
   {"data":{"values":[{"E":4469,"v":94,"t":"(g)"}]},"mark":{"type":"text","align":"left","baseline":"middle","fontSize":20,"fontWeight":"bold"},"encoding":{"y":{"field":"v","type":"quantitative","axis":{"orient":"left","title":null,"values":[50,100]}},"text":{"field":"t"}}}
  ]},
 {"width":348,"height":110,
  "resolve":{"axis":{"y":"independent"}},
  "encoding":{"x":{"field":"E","type":"quantitative","scale":{"domain":[4300,8500],"nice":false,"zero":false},"axis":{"title":null,"labels":false,"gridDash":[4,102],"values":[4500,4750,5000,5250,5500,5750,6000,6250,6500,6750,7000,7250,7500,7750,8000,8250]}}},
  "layer":[
   {"data":{"name":"h"},"mark":{"type":"bar","size":4.5,"color":"#0b7f7f","clip":true,"orient":"vertical"},"encoding":{"y":{"field":"v","type":"quantitative","scale":{"domain":[0,500],"nice":false,"zero":false},"axis":{"orient":"left","title":["B(E1)↑","[10⁻³ e²fm²]"],"values":[100,300],"titleX":-114,"titleLineHeight":33}}}},
   {"data":{"values":[{"E":5300,"v":375,"t":"×0.64"},{"E":7513,"v":375,"t":"×0.62"}]},"mark":{"type":"text","align":"left","baseline":"middle","fontSize":21},"encoding":{"y":{"field":"v","type":"quantitative","axis":null},"text":{"field":"t"}}},
   {"data":{"values":[{"E":4469,"v":432,"t":"(h)"}]},"mark":{"type":"text","align":"left","baseline":"middle","fontSize":20,"fontWeight":"bold"},"encoding":{"y":{"field":"v","type":"quantitative","axis":{"orient":"left","title":null,"values":[200,400]}},"text":{"field":"t"}}}
  ]},
 {"width":348,"height":108,
  "resolve":{"axis":{"y":"independent"}},
  "encoding":{"x":{"field":"E","type":"quantitative","scale":{"domain":[4300,8500],"nice":false,"zero":false},"axis":{"title":null,"labels":false,"gridDash":[4,100],"values":[4500,4750,5000,5250,5500,5750,6000,6250,6500,6750,7000,7250,7500,7750,8000,8250]}}},
  "layer":[
   {"data":{"name":"i"},"mark":{"type":"bar","size":4.5,"color":"#0b7f7f","clip":true,"orient":"vertical"},"encoding":{"y":{"field":"v","type":"quantitative","scale":{"domain":[0,500],"nice":false,"zero":false},"axis":{"orient":"left","title":["B(E1)↑","[10⁻³ e²fm²]"],"values":[100,300],"titleX":-114,"titleLineHeight":33}}}},
   {"data":{"values":[{"E":6131,"v":360,"t":"×0.89"},{"E":7513,"v":360,"t":"×0.76"}]},"mark":{"type":"text","align":"left","baseline":"middle","fontSize":21},"encoding":{"y":{"field":"v","type":"quantitative","axis":null},"text":{"field":"t"}}},
   {"data":{"values":[{"E":8657,"v":400,"t":"(3p₁/₂)⁻¹(4s₁/₂)⁺¹"},{"E":8657,"v":268,"t":"and (3p₁/₂)⁻¹(3d₃/₂)⁺¹"},{"E":8657,"v":148,"t":"excluded"}]},"mark":{"type":"text","align":"left","baseline":"middle","fontSize":17},"encoding":{"y":{"field":"v","type":"quantitative","axis":null},"text":{"field":"t"}}},
   {"data":{"values":[{"E":4469,"v":420,"t":"(i)"}]},"mark":{"type":"text","align":"left","baseline":"middle","fontSize":20,"fontWeight":"bold"},"encoding":{"y":{"field":"v","type":"quantitative","axis":{"orient":"left","title":null,"values":[200,400]}},"text":{"field":"t"}}}
  ]},
 {"width":348,"height":89,
  "resolve":{"axis":{"y":"independent"}},
  "encoding":{"x":{"field":"E","type":"quantitative","scale":{"domain":[4300,8500],"nice":false,"zero":false},"axis":{"title":null,"labels":false,"gridDash":[4,81],"values":[4500,4750,5000,5250,5500,5750,6000,6250,6500,6750,7000,7250,7500,7750,8000,8250]}}},
  "layer":[
   {"data":{"name":"j"},"mark":{"type":"bar","size":5,"clip":true,"orient":"vertical"},"encoding":{"y":{"field":"v","type":"quantitative","scale":{"domain":[10,910],"nice":false,"zero":false},"axis":{"orient":"left","title":["σ(d,p)","[μb]"],"values":[200,600],"titleX":-107,"titleLineHeight":24}},"y2":{"datum":10},"color":{"field":"s","type":"nominal","scale":{"domain":[1,2,3,4,5,6,7,8,9,10,11,12,13,14],"range":["#0000ff","#ff0000","#c8c8c8","#646464","#333333","#bdb76b","#fffacd","#ffe4b5","#9acd32","#adff2f","#008000","#ee82ee","#800080","#ffa500"]},"legend":null}}},
   {"data":{"values":[{"E":8380,"v":700,"t":"QPM+DWBA"}]},"mark":{"type":"text","align":"right","baseline":"middle","fontSize":20},"encoding":{"y":{"field":"v","type":"quantitative","axis":null},"text":{"field":"t"}}},
   {"data":{"values":[{"E":4469,"v":720,"t":"(j)"}]},"mark":{"type":"text","align":"left","baseline":"middle","fontSize":20,"fontWeight":"bold"},"encoding":{"y":{"field":"v","type":"quantitative","axis":{"orient":"left","title":null,"values":[400,800]}},"text":{"field":"t"}}}
  ]},
 {"width":348,"height":91,
  "resolve":{"axis":{"y":"independent"}},
  "encoding":{"x":{"field":"E","type":"quantitative","scale":{"domain":[4300,8500],"nice":false,"zero":false},"axis":{"title":null,"labels":false,"gridDash":[4,83],"values":[4500,4750,5000,5250,5500,5750,6000,6250,6500,6750,7000,7250,7500,7750,8000,8250]}}},
  "layer":[
   {"data":{"name":"k"},"mark":{"type":"bar","size":5,"clip":true,"orient":"vertical"},"encoding":{"y":{"field":"lo","type":"quantitative","scale":{"domain":[0,120],"nice":false,"zero":false},"axis":{"orient":"left","title":["R₍₁ₚ₋₁ₕ₎ᵥ","[%]"],"values":[25,75],"titleX":-112,"titleLineHeight":28}},"y2":{"field":"hi"},"color":{"field":"s","type":"nominal","scale":{"domain":[1,2,3,4,5,6,7,8,9,10,11,12,13,14],"range":["#0000ff","#ff0000","#c8c8c8","#646464","#333333","#bdb76b","#fffacd","#ffe4b5","#9acd32","#adff2f","#008000","#ee82ee","#800080","#ffa500"]},"legend":null}}},
   {"data":{"values":[{"E":4469,"v":93.5,"t":"(k)"}]},"mark":{"type":"text","align":"left","baseline":"middle","fontSize":20,"fontWeight":"bold"},"encoding":{"y":{"field":"v","type":"quantitative","axis":{"orient":"left","title":null,"values":[50,100]}},"text":{"field":"t"}}}
  ]},
 {"width":348,"height":90,
  "resolve":{"axis":{"y":"independent"}},
  "encoding":{"x":{"field":"E","type":"quantitative","scale":{"domain":[4300,8500],"nice":false,"zero":false},"axis":{"title":null,"labels":false,"gridDash":[4,82],"values":[4500,4750,5000,5250,5500,5750,6000,6250,6500,6750,7000,7250,7500,7750,8000,8250]}}},
  "layer":[
   {"data":{"name":"l"},"mark":{"type":"bar","size":5,"clip":true,"orient":"vertical"},"encoding":{"y":{"field":"lo","type":"quantitative","scale":{"domain":[0,120],"nice":false,"zero":false},"axis":{"orient":"left","title":["SVS","[%]"],"values":[25,75],"titleX":-105,"titleLineHeight":24}},"y2":{"field":"hi"},"color":{"field":"c","type":"nominal","scale":{"domain":["1-phonon","2-phonon"],"range":["#000080","#cd5c5c"]},"legend":null}}},
   {"data":{"values":[{"E":8657,"E2":9007,"v":94.1,"c":"1-phonon"},{"E":8657,"E2":9007,"v":67.5,"c":"2-phonon"}]},"mark":{"type":"rule","strokeWidth":5},"encoding":{"x":{"field":"E","type":"quantitative"},"x2":{"field":"E2"},"y":{"field":"v","type":"quantitative","axis":null},"color":{"field":"c","type":"nominal","legend":null}}},
   {"data":{"values":[{"E":9140,"v":94.1,"t":"1-phonon"},{"E":9140,"v":67.5,"t":"2-phonon"}]},"mark":{"type":"text","align":"left","baseline":"middle","fontSize":18},"encoding":{"y":{"field":"v","type":"quantitative","axis":null},"text":{"field":"t"}}},
   {"data":{"values":[{"E":4469,"v":92,"t":"(l)"}]},"mark":{"type":"text","align":"left","baseline":"middle","fontSize":20,"fontWeight":"bold"},"encoding":{"y":{"field":"v","type":"quantitative","axis":{"orient":"left","title":null,"values":[50,100]}},"text":{"field":"t"}}}
  ]},
 {"width":348,"height":109,
  "resolve":{"axis":{"y":"independent"}},
  "encoding":{"x":{"field":"E","type":"quantitative","scale":{"domain":[4300,8500],"nice":false,"zero":false},"axis":{"title":"Energy[keV]","format":"d","labelExpr":"datum.value % 1000 === 0 ? datum.label : ''","gridDash":[4,101],"values":[4500,4750,5000,5250,5500,5750,6000,6250,6500,6750,7000,7250,7500,7750,8000,8250],"labelPadding":15,"titleFontSize":22,"titlePadding":9}}},
  "layer":[
   {"data":{"name":"m"},"mark":{"type":"bar","size":4.5,"color":"#0b7f7f","clip":true,"orient":"vertical"},"encoding":{"y":{"field":"v","type":"quantitative","scale":{"domain":[0,500],"nice":false,"zero":false},"axis":{"orient":"left","title":["B(E1)↑","[10⁻³ e²fm²]"],"values":[100,300],"titleX":-114,"titleLineHeight":33}}}},
   {"data":{"values":[{"E":4469,"v":417,"t":"(m)"}]},"mark":{"type":"text","align":"left","baseline":"middle","fontSize":20,"fontWeight":"bold"},"encoding":{"y":{"field":"v","type":"quantitative","axis":{"orient":"left","title":null,"values":[200,400]}},"text":{"field":"t"}}}
  ]}
],
"resolve":{"scale":{"x":"independent","y":"independent","color":"independent","fill":"independent"},"axis":{"x":"independent","y":"independent"},"legend":{"color":"independent","fill":"independent"}}
}
